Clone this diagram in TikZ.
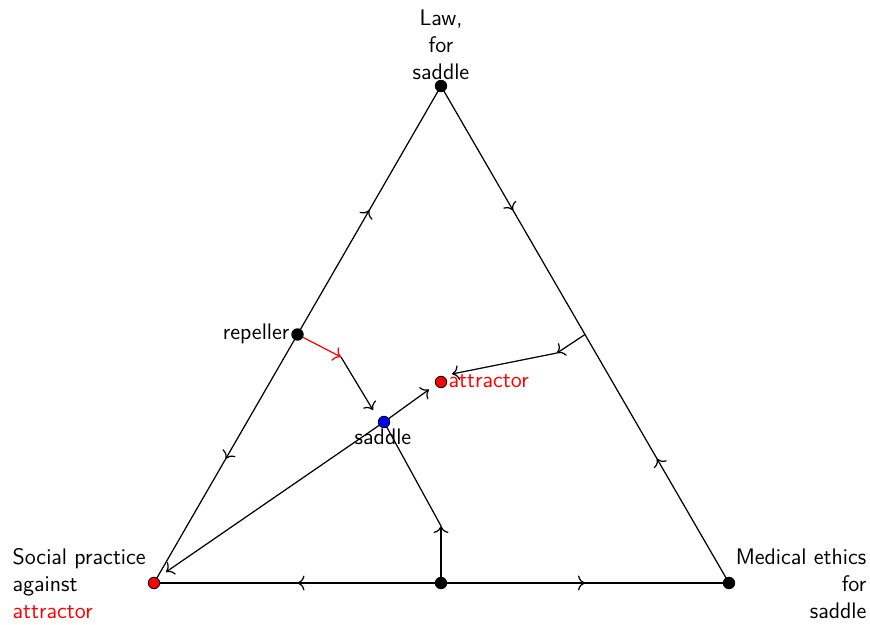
\documentclass[tikz,border=0pt]{standalone}
\usetikzlibrary{arrows.meta,decorations.markings}
\begin{document}
\begin{tikzpicture}[x=0.02cm,y=-0.02cm, line width=0.7pt,
  >={To[length=4pt,width=8.5pt]},
  lbl/.style={font=\sffamily\fontsize{12.8}{15.4}\selectfont, inner sep=0pt},
  dot/.style={circle,draw=black,line width=0.5pt,minimum size=0.23cm,inner sep=0pt},
  midarrow/.style={postaction={decorate},decoration={markings,mark=at position 0.5 with {\arrow{>}}}}]
\useasboundingbox (0,0) rectangle (870,625);
% key points
\coordinate (T) at (441,86);
\coordinate (L) at (154,583);
\coordinate (R) at (729,583);
\coordinate (Rep) at (297.5,334.5);
\coordinate (M) at (585,334.5);
\coordinate (B) at (441,583);
\coordinate (Sad) at (384,422);
\coordinate (Att) at (441,382);
\coordinate (k1) at (341,357);
\coordinate (k1e) at (373,410);
\coordinate (k2) at (557,353);
\coordinate (k2e) at (452,374);
\coordinate (k3) at (441,526);
\coordinate (sa) at (429,389.5);
\coordinate (sl) at (166,572);
% triangle sides
\draw[midarrow] (Rep) -- (T);
\draw[midarrow] (Rep) -- (L);
\draw[midarrow] (T) -- (M);
\draw[midarrow] (R) -- (M);
\draw[midarrow] (B) -- (L);
\draw[midarrow] (B) -- (R);
% interior flows
\draw[red,->] (Rep) -- (k1);
\draw[->] (k1) -- (k1e);
\draw[->] (M) -- (k2);
\draw[->] (k2) -- (k2e);
\draw[->] (Sad) -- (sa);
\draw[->] (Sad) -- (sl);
\draw[->] (B) -- (k3);
\draw (k3) -- (Sad);
% dots
\node[dot,fill=black] (Tdot) at (T) {};
\node[dot,fill=red] (Ldot) at (L) {};
\node[dot,fill=black] (Rdot) at (R) {};
\node[dot,fill=black] (Repdot) at (Rep) {};
\node[dot,fill=black] (Bdot) at (B) {};
\node[dot,fill=blue] (Saddot) at (Sad) {};
\node[dot,fill=red] (Attdot) at (Att) {};
% labels
\node[lbl,align=center] (tlab) at (441,45) {Law,\\for\\saddle};
\node[lbl,align=left,anchor=west] (llab) at (12,584) {Social practice\\against\\\textcolor{red}{attractor}};
\node[lbl,align=right,anchor=east] (rlab) at (867,584) {Medical ethics\\for\\saddle};
\node[lbl,anchor=base east] (replab) at (290,339.5) {repeller};
\node[lbl,anchor=base west,text=red] (attlab) at (448,387.5) {attractor};
\node[lbl,anchor=base] (sadlab) at (383,444) {saddle};
\end{tikzpicture}
\end{document}
